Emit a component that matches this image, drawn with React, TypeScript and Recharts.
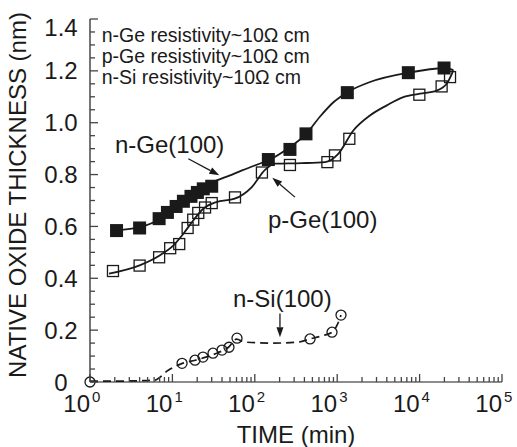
import React from 'react';
import { ComposedChart, Line, Scatter, XAxis, YAxis, ReferenceLine, ReferenceDot, Label } from 'recharts';

// axis ticks
const xMajorTicks = [1, 10, 100, 1000, 10000, 100000];
const xMinorFactors = [2, 3, 4, 5, 6, 7, 8, 9];
const yMajorTicks = [0, 0.2, 0.4, 0.6, 0.8, 1.0, 1.2, 1.4];
const yMinorTicks = [0.05, 0.1, 0.15, 0.25, 0.3, 0.35, 0.45, 0.5, 0.55, 0.65, 0.7, 0.75, 0.85, 0.9, 0.95, 1.05, 1.1, 1.15, 1.25, 1.3, 1.35];

// measured points (time in min, thickness in nm)
const nGeTime = [2.1, 4.0, 6.9, 8.7, 11.1, 13.6, 16.8, 20.1, 23.7, 30, 146, 267, 418, 1327, 7300, 19800];
const nGeThk = [0.584, 0.594, 0.630, 0.654, 0.677, 0.697, 0.716, 0.731, 0.745, 0.755, 0.858, 0.897, 0.957, 1.116, 1.193, 1.211];

const pGeTime = [1.9, 4.0, 6.9, 9.4, 12.1, 15.3, 17.9, 20.6, 24.9, 30, 57.5, 122, 267, 760, 940, 1403, 9930, 18500, 23400];
const pGeThk = [0.428, 0.449, 0.481, 0.516, 0.532, 0.594, 0.626, 0.652, 0.673, 0.690, 0.712, 0.808, 0.837, 0.848, 0.874, 0.938, 1.108, 1.140, 1.176];

const nSiTime = [1, 13.1, 18.8, 23.5, 31.1, 40, 48.6, 60.8, 468, 865, 1112];
const nSiThk = [0, 0.072, 0.084, 0.096, 0.111, 0.123, 0.134, 0.169, 0.166, 0.192, 0.258];

// guide curves
const nGeFitTime = [2.1, 4, 7, 10, 15, 20, 30, 50, 70, 100, 150, 250, 420, 620, 900, 1300, 2500, 7300, 20000, 25700];
const nGeFitThk = [0.585, 0.597, 0.628, 0.663, 0.705, 0.735, 0.768, 0.797, 0.816, 0.835, 0.857, 0.9, 0.957, 1.024, 1.079, 1.116, 1.157, 1.193, 1.21, 1.203];

const pGeFitTime = [1.7, 4, 7, 10.3, 13.6, 17.9, 23.7, 34, 57, 92, 133, 176, 370, 710, 1030, 1570, 2500, 4000, 6350, 10100, 16100, 21300, 25700];
const pGeFitThk = [0.418, 0.45, 0.488, 0.527, 0.572, 0.623, 0.668, 0.694, 0.707, 0.752, 0.818, 0.842, 0.844, 0.848, 0.88, 0.97, 1.028, 1.067, 1.099, 1.112, 1.124, 1.15, 1.202];

const nSiFitTime = [1, 3, 6, 8.9, 13, 19, 26, 35, 48, 60, 76, 160, 337, 468, 650, 865, 1000, 1112];
const nSiFitThk = [0.003, 0.004, 0.007, 0.045, 0.071, 0.084, 0.097, 0.112, 0.134, 0.165, 0.154, 0.150, 0.154, 0.166, 0.178, 0.192, 0.22, 0.258];

const resistivityNotes = ['n-Ge resistivity~10\u03A9 cm', 'p-Ge resistivity~10\u03A9 cm', 'n-Si resistivity~10\u03A9 cm'];
const noteThk = [1.313, 1.229, 1.148];

const INK = '#1a1a1a';
const TICK_INK = '#444';
const FONT = '"Liberation Sans", Arial, Helvetica, sans-serif';

const zip = (t: number[], v: number[]) => t.map((x, i) => ({ t: x, v: v[i] }));

const xTicks = [
  ...xMajorTicks,
  ...xMajorTicks.slice(0, -1).flatMap((d) => xMinorFactors.map((f) => f * d)),
].sort((a, b) => a - b);
const yTicks = [...yMajorTicks, ...yMinorTicks].sort((a, b) => a - b);

const isDecade = (v: number) => Math.abs(Math.log10(v) - Math.round(Math.log10(v))) < 1e-9;

const XTickBottom = (props: any) => {
  const { x, y, payload } = props;
  const major = isDecade(payload.value);
  return (
    <g>
      <line x1={x} x2={x} y1={y} y2={y - (major ? 8 : 5)} stroke={TICK_INK} strokeWidth={1.3} />
      {major && (
        <g fontFamily={FONT} fill={INK}>
          <text x={x} y={y + 30} textAnchor="end" fontSize={24}>10</text>
          <text x={x + 2} y={y + 20} textAnchor="start" fontSize={15}>{Math.round(Math.log10(payload.value))}</text>
        </g>
      )}
    </g>
  );
};

const XTickTop = (props: any) => {
  const { x, y, payload } = props;
  const major = isDecade(payload.value);
  return <line x1={x} x2={x} y1={y} y2={y + (major ? 8 : 5)} stroke={TICK_INK} strokeWidth={1.3} />;
};

const YTickLeft = (props: any) => {
  const { x, y, payload } = props;
  const v = payload.value;
  const major = yMajorTicks.includes(v);
  const text = v === 0 ? '0' : v.toFixed(1);
  return (
    <g>
      <line x1={x} x2={x + (major ? 8 : 5)} y1={y} y2={y} stroke={TICK_INK} strokeWidth={1.3} />
      {major && (
        <text x={x - 29} y={y + 8.5 + (v === 1.4 ? 8 : 0)} textAnchor="middle" fontSize={24} fontFamily={FONT} fill={INK}>
          {text}
        </text>
      )}
    </g>
  );
};

const FilledSquare = (p: any) => <rect x={p.cx - 6.5} y={p.cy - 6.5} width={13} height={13} fill={INK} />;
const OpenSquare = (p: any) => (
  <rect x={p.cx - 5.5} y={p.cy - 5.5} width={11} height={11} fill="none" stroke={INK} strokeWidth={1.3} />
);
const OpenCircle = (p: any) => <circle cx={p.cx} cy={p.cy} r={5} fill="none" stroke={INK} strokeWidth={1.3} />;

// arrow with a filled head at (x2, y2)
const Arrow = (p: any) => {
  const { x1, y1, x2, y2 } = p;
  const a = Math.atan2(y2 - y1, x2 - x1);
  const len = 10;
  const w = 3.5;
  const bx = x2 - len * Math.cos(a);
  const by = y2 - len * Math.sin(a);
  const nx = -Math.sin(a) * w;
  const ny = Math.cos(a) * w;
  return (
    <g>
      <line x1={x1} y1={y1} x2={bx} y2={by} stroke={INK} strokeWidth={1.3} />
      <polygon points={`${x2},${y2} ${bx + nx},${by + ny} ${bx - nx},${by - ny}`} fill={INK} />
    </g>
  );
};

const textAt = (text: string, size: number) => (p: any) => (
  <text x={p.cx} y={p.cy} fontSize={size} fontFamily={FONT} fill={INK}>
    {text}
  </text>
);

const App: React.FC = () => {
  return (
    <div style={{ position: 'absolute', left: 0, top: 0, width: 517, height: 447, background: '#fff' }}>
      <ComposedChart width={517} height={447} margin={{ top: 19, right: 15, bottom: 35, left: 30 }}>
        <XAxis
          dataKey="t"
          type="number"
          scale="log"
          domain={[1, 100000]}
          ticks={xTicks}
          interval={0}
          tickSize={0}
          tickMargin={0}
          tick={<XTickBottom />}
          height={30}
          axisLine={{ stroke: INK, strokeWidth: 1.2 }}
        >
          <Label
            content={() => (
              <text x={296} y={443} textAnchor="middle" fontSize={24} fontFamily={FONT} fill={INK}>
                TIME (min)
              </text>
            )}
          />
        </XAxis>
        <XAxis
          xAxisId="top"
          orientation="top"
          dataKey="t"
          type="number"
          scale="log"
          domain={[1, 100000]}
          ticks={xTicks}
          interval={0}
          tickSize={0}
          tickMargin={0}
          tick={<XTickTop />}
          height={0}
          axisLine={{ stroke: INK, strokeWidth: 1.2 }}
        />
        <YAxis
          dataKey="v"
          type="number"
          domain={[0, 1.4]}
          ticks={yTicks}
          interval={0}
          tickSize={0}
          tickMargin={0}
          tick={<YTickLeft />}
          width={60}
          axisLine={{ stroke: INK, strokeWidth: 1.2 }}
        >
          <Label
            content={() => (
              <text x={26} y={195} transform="rotate(-90, 26, 195)" textAnchor="middle" fontSize={24} fontFamily={FONT} fill={INK}>
                NATIVE OXIDE THICKNESS (nm)
              </text>
            )}
          />
        </YAxis>
        <YAxis
          yAxisId="right"
          orientation="right"
          type="number"
          domain={[0, 1.4]}
          tick={false}
          tickLine={false}
          width={0}
          axisLine={{ stroke: INK, strokeWidth: 1.2 }}
        />

        <Line data={zip(nGeFitTime, nGeFitThk)} dataKey="v" type="monotone" stroke={INK} strokeWidth={1.8} dot={false} isAnimationActive={false} />
        <Line data={zip(pGeFitTime, pGeFitThk)} dataKey="v" type="monotone" stroke={INK} strokeWidth={1.8} dot={false} isAnimationActive={false} />
        <Line
          data={zip(nSiFitTime, nSiFitThk)}
          dataKey="v"
          type="monotone"
          stroke={INK}
          strokeWidth={1.7}
          strokeDasharray="8 5"
          dot={false}
          isAnimationActive={false}
        />

        <Scatter data={zip(nGeTime, nGeThk)} dataKey="v" shape={<FilledSquare />} isAnimationActive={false} />
        <Scatter data={zip(pGeTime, pGeThk)} dataKey="v" shape={<OpenSquare />} isAnimationActive={false} />
        <Scatter data={zip(nSiTime, nSiThk)} dataKey="v" shape={<OpenCircle />} isAnimationActive={false} />

        {/* series labels and arrows */}
        <ReferenceDot x={2.01} y={0.885} r={0} shape={textAt('n-Ge(100)', 24)} />
        <ReferenceLine segment={[{ x: 15.6, y: 0.861 }, { x: 37.1, y: 0.797 }]} shape={<Arrow />} />
        <ReferenceDot x={144.6} y={0.593} r={0} shape={textAt('p-Ge(100)', 24)} />
        <ReferenceLine segment={[{ x: 307, y: 0.713 }, { x: 163, y: 0.788 }]} shape={<Arrow />} />
        <ReferenceDot x={54.4} y={0.288} r={0} shape={textAt('n-Si(100)', 24)} />
        <ReferenceLine segment={[{ x: 202, y: 0.264 }, { x: 202, y: 0.173 }]} shape={<Arrow />} />

        {resistivityNotes.map((note, i) => (
          <ReferenceDot key={note} x={1.387} y={noteThk[i]} r={0} shape={textAt(note, 19.5)} />
        ))}
      </ComposedChart>
    </div>
  );
};

export default App;
